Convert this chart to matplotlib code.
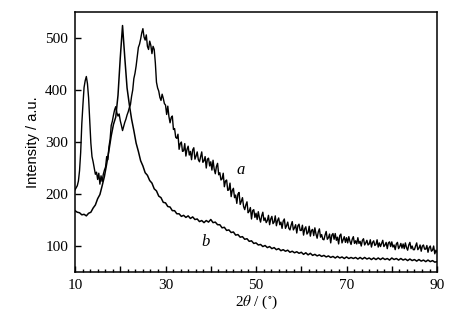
import matplotlib
matplotlib.use("Agg")
import matplotlib.pyplot as plt
import numpy as np
from matplotlib.ticker import MultipleLocator, AutoMinorLocator, FuncFormatter

# XRD curve a, 2theta 10..90 in steps of 0.25
int_a = [208, 212, 216, 225, 245, 280, 335, 372, 405, 418,
         426, 412, 385, 340, 298, 272, 262, 250, 238, 242,
         228, 240, 219, 235, 224, 238, 246, 252, 272, 266,
         291, 305, 332, 340, 352, 362, 368, 356, 350, 354,
         341, 332, 322, 330, 338, 344, 352, 358, 366, 372,
         388, 400, 422, 432, 446, 464, 482, 488, 498, 510,
         518, 502, 496, 506, 484, 478, 494, 486, 470, 484,
         478, 452, 415, 404, 398, 386, 380, 392, 384, 374,
         371, 353, 369, 349, 337, 347, 350, 324, 326, 309,
         307, 315, 286, 297, 300, 282, 283, 297, 273, 286,
         292, 275, 282, 266, 285, 289, 267, 273, 281, 266,
         262, 272, 281, 261, 264, 272, 250, 267, 269, 254,
         262, 246, 265, 248, 239, 253, 259, 237, 241, 227,
         229, 240, 214, 225, 227, 207, 208, 221, 195, 207,
         211, 193, 198, 182, 200, 203, 180, 186, 193, 176,
         170, 179, 185, 164, 167, 174, 152, 168, 170, 155,
         163, 151, 166, 154, 146, 158, 165, 149, 154, 145,
         149, 159, 141, 152, 157, 143, 146, 158, 139, 149,
         154, 141, 146, 134, 148, 152, 134, 139, 146, 134,
         131, 140, 147, 131, 135, 141, 125, 139, 142, 130,
         130, 140, 121, 133, 137, 123, 126, 138, 119, 130,
         132, 120, 135, 123, 115, 127, 133, 117, 122, 113,
         112, 121, 128, 113, 116, 123, 106, 121, 124, 113,
         124, 111, 117, 104, 120, 123, 106, 112, 118, 107,
         116, 106, 118, 109, 103, 113, 118, 105, 110, 104,
         116, 105, 109, 100, 111, 114, 102, 106, 111, 102,
         104, 112, 98, 107, 110, 101, 103, 112, 98, 106,
         99, 105, 111, 99, 102, 107, 95, 106, 108, 99,
         108, 98, 102, 93, 104, 107, 95, 99, 105, 96,
         104, 95, 106, 97, 92, 102, 107, 95, 100, 93,
         93, 100, 106, 93, 96, 102, 90, 100, 102, 94,
         94, 101, 88, 97, 100, 90, 92, 100, 85, 92,
         88]

# XRD curve b, 2theta 10..90 in steps of 0.5
int_b = [168, 165, 164, 160, 161, 158, 163, 165, 173, 179,
         191, 199, 216, 234, 258, 284, 312, 334, 348, 390,
         462, 524, 462, 404, 372, 344, 322, 298, 282, 264,
         254, 241, 236, 226, 221, 210, 206, 196, 193, 184,
         183, 176, 175, 168, 168, 162, 162, 157, 159, 155,
         158, 153, 156, 151, 152, 147, 149, 145, 149, 146,
         151, 145, 146, 141, 141, 135, 136, 130, 131, 126,
         127, 121, 122, 117, 118, 113, 114, 109, 110, 105,
         106, 102, 103, 99, 101, 97, 99, 95, 97, 93,
         95, 91, 93, 90, 92, 88, 90, 87, 89, 86,
         88, 84, 87, 83, 86, 82, 84, 81, 83, 80,
         82, 79, 81, 78, 80, 77, 80, 77, 79, 76,
         79, 76, 78, 76, 78, 75, 78, 75, 78, 75,
         77, 74, 77, 74, 77, 74, 77, 74, 76, 73,
         77, 74, 76, 73, 76, 73, 75, 72, 75, 72,
         74, 71, 74, 71, 73, 70, 73, 70, 72, 69,
         70]

two_theta_a = np.linspace(10, 90, len(int_a))
two_theta_b = np.linspace(10, 90, len(int_b))

x_labels = [10, 30, 50, 70, 90]

plt.rcParams['font.family'] = ['Liberation Serif', 'DejaVu Serif']
plt.rcParams['mathtext.fontset'] = 'stix'

fig = plt.figure(figsize=(4.73, 3.25), dpi=100)
ax = fig.add_axes([0.1586, 0.163, 0.7654, 0.8])

ax.plot(two_theta_a, int_a, color='black', lw=1.0)
ax.plot(two_theta_b, int_b, color='black', lw=1.1)

ax.set_xlim(10, 90)
ax.set_ylim(50, 550)

ax.xaxis.set_major_locator(MultipleLocator(10))
ax.xaxis.set_minor_locator(AutoMinorLocator(6))
ax.xaxis.set_major_formatter(FuncFormatter(
    lambda v, p: '%d' % v if int(round(v)) in x_labels else ''))
ax.set_yticks([100, 200, 300, 400, 500])

ax.tick_params(which='both', direction='in', top=False, right=False,
               labelsize=11, width=1.0)
ax.tick_params(which='major', length=4, pad=5)
ax.tick_params(which='minor', length=2.5)

for s in ax.spines.values():
    s.set_linewidth(1.1)

ax.set_ylabel('Intensity / a.u.', family=['Liberation Sans', 'DejaVu Sans'],
              fontsize=10.5, labelpad=4)
ax.set_xlabel(r'2$\it{\theta}$ / ($^{\circ}$)', fontsize=11, labelpad=1)

ax.text(46.6, 246, 'a', style='italic', fontsize=12, ha='center', va='center')
ax.text(38.8, 108, 'b', style='italic', fontsize=12, ha='center', va='center')

fig.savefig('out.png', dpi=100)
